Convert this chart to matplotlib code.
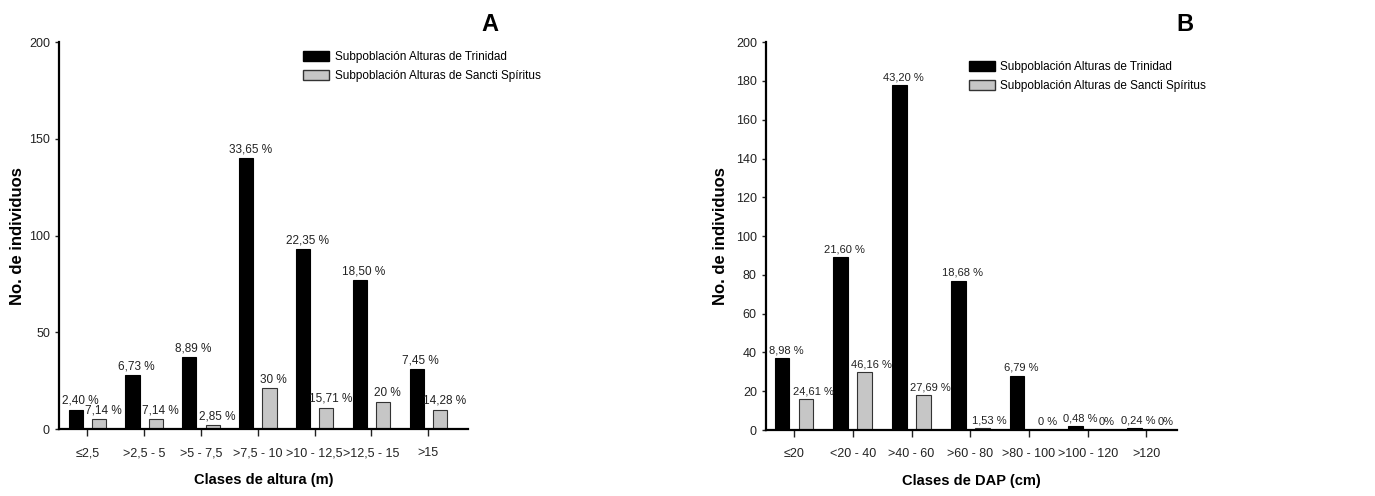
import numpy as np
import matplotlib
matplotlib.use("Agg")
from matplotlib import pyplot as plt
from matplotlib.patches import Patch

plt.rcParams['font.family'] = ['Liberation Sans', 'DejaVu Sans']

# panel A - clases de altura
clases_altura = ["≤2,5", ">2,5 - 5", ">5 - 7,5", ">7,5 - 10", ">10 - 12,5", ">12,5 - 15", ">15"]
trinidad_a = [10, 28, 37, 140, 93, 77, 31]
sancti_a = [5, 5, 2, 21, 11, 14, 10]
pct_trin_a = ["2,40 %", "6,73 %", "8,89 %", "33,65 %", "22,35 %", "18,50 %", "7,45 %"]
pct_sanc_a = ["7,14 %", "7,14 %", "2,85 %", "30 %", "15,71 %", "20 %", "14,28 %"]

# panel B - clases de DAP
clases_dap = ["≤20", "<20 - 40", ">40 - 60", ">60 - 80", ">80 - 100", ">100 - 120", ">120"]
trinidad_b = [37, 89, 178, 77, 28, 2, 1]
sancti_b = [16, 30, 18, 1, 0, 0, 0]
pct_trin_b = ["8,98 %", "21,60 %", "43,20 %", "18,68 %", "6,79 %", "0,48 %", "0,24 %"]
pct_sanc_b = ["24,61 %", "46,16 %", "27,69 %", "1,53 %", "0 %", "0%", "0%"]

leg_labels = ["Subpoblación Alturas de Trinidad", "Subpoblación Alturas de Sancti Spíritus"]
GRAY = "#c6c6c6"
W = 0.25
OFF = 0.205
FS = 8.5


def panel(ax, cats, trin, sanc, pt, ps, yticks, xlabel, xlim, ypad, lfs, gdx):
    x = np.arange(len(cats))
    ax.bar(x - OFF, trin, W, color="black", edgecolor="black", linewidth=0.8)
    ax.bar(x + OFF, sanc, W, color=GRAY, edgecolor="#333333", linewidth=0.8)
    for xi, v, t in zip(x, trin, pt):
        ax.annotate(t, (xi - OFF, v), xytext=(3, 2), textcoords="offset points",
                    ha="center", va="bottom", fontsize=lfs, color="#222222")
    for xi, v, t in zip(x, sanc, ps):
        ax.annotate(t, (xi + OFF, v), xytext=(gdx, 2), textcoords="offset points",
                    ha="center", va="bottom", fontsize=lfs, color="#222222")
    ax.set_xlim(*xlim)
    ax.set_ylim(0, 200)
    ax.set_yticks(yticks)
    ax.set_xticks(x)
    ax.set_xticklabels(cats)
    for s in ["top", "right"]:
        ax.spines[s].set_visible(False)
    for s in ["left", "bottom"]:
        ax.spines[s].set_linewidth(1.6)
    ax.tick_params(axis="x", length=5, width=1, labelsize=9, pad=8, colors="#222222")
    ax.tick_params(axis="y", length=3, width=1, labelsize=9, colors="#222222")
    ax.set_xlabel(xlabel, fontsize=10.5, fontweight="bold", labelpad=10)
    ax.set_ylabel("No. de individuos", fontsize=12, fontweight="bold", labelpad=ypad)


fig = plt.figure(figsize=(13.75, 4.96), dpi=100)
ax1 = fig.add_axes([0.0429, 0.135, 0.2975, 0.78])
ax2 = fig.add_axes([0.557, 0.133, 0.299, 0.782])

panel(ax1, clases_altura, trinidad_a, sancti_a, pct_trin_a, pct_sanc_a,
      np.arange(0, 201, 50), "Clases de altura (m)", (-0.5, 6.7), 3, FS, 3)
panel(ax2, clases_dap, trinidad_b, sancti_b, pct_trin_b, pct_sanc_b,
      np.arange(0, 201, 20), "Clases de DAP (cm)", (-0.48, 6.52), 6, 8, 5)

handles = [Patch(facecolor="black", edgecolor="black"),
           Patch(facecolor=GRAY, edgecolor="#333333")]
fig.legend(handles, leg_labels, loc="upper left", bbox_to_anchor=(0.217, 0.907),
           frameon=False, fontsize=FS, handlelength=2.2, handleheight=0.9,
           labelspacing=0.6, handletextpad=0.5, borderaxespad=0)
fig.legend(handles, leg_labels, loc="upper left", bbox_to_anchor=(0.701, 0.887),
           frameon=False, fontsize=FS, handlelength=2.2, handleheight=0.9,
           labelspacing=0.6, handletextpad=0.5, borderaxespad=0)

fig.text(0.356, 0.95, "A", fontsize=17, fontweight="bold", ha="center", va="center")
fig.text(0.862, 0.95, "B", fontsize=17, fontweight="bold", ha="center", va="center")

fig.savefig("out.png", dpi=100)
